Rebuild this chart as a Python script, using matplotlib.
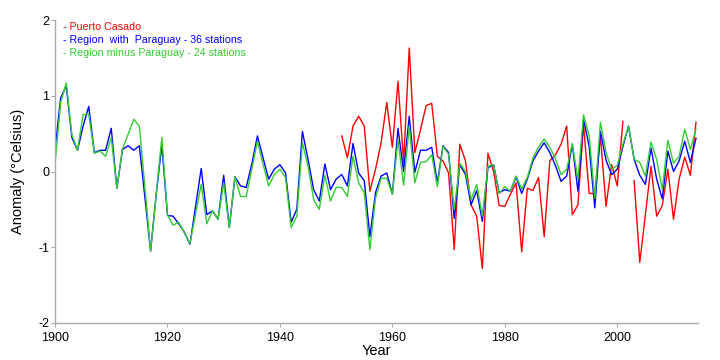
import numpy as np
import matplotlib
matplotlib.use("Agg")
import matplotlib.pyplot as plt

plt.rcParams["font.family"] = ["Liberation Sans", "DejaVu Sans"]
plt.rcParams["axes.unicode_minus"] = False

years = np.arange(1900, 2015)

# Region with Paraguay - 36 stations (1900..2014)
with_py = [
    0.29, 0.97, 1.13, 0.45, 0.28, 0.60, 0.86, 0.25, 0.28, 0.28,
    0.57, -0.22, 0.29, 0.34, 0.28, 0.34, -0.35, -1.05, -0.30, 0.35,
    -0.58, -0.59, -0.69, -0.80, -0.96, -0.46, 0.04, -0.57, -0.52, -0.63,
    -0.05, -0.74, -0.07, -0.19, -0.21, 0.10, 0.47, 0.18, -0.10, 0.03,
    0.09, -0.02, -0.67, -0.50, 0.53, 0.16, -0.24, -0.39, 0.10, -0.24,
    -0.10, -0.04, -0.19, 0.37, -0.02, -0.12, -0.86, -0.28, -0.06, -0.02,
    -0.30, 0.57, 0.00, 0.73, -0.01, 0.28, 0.28, 0.32, -0.15, 0.34,
    0.25, -0.62, 0.09, -0.04, -0.44, -0.25, -0.66, 0.05, 0.09, -0.28,
    -0.24, -0.26, -0.07, -0.29, -0.10, 0.14, 0.27, 0.38, 0.25, 0.08,
    -0.13, -0.06, 0.36, -0.26, 0.69, 0.33, -0.48, 0.53, 0.15, -0.04,
    0.03, 0.33, 0.60, 0.16, -0.05, -0.17, 0.31, -0.10, -0.36, 0.27,
    0.00, 0.14, 0.40, 0.12, 0.44,
]

# Region minus Paraguay - 24 stations (1900..2014)
minus_py = [
    0.09, 0.91, 1.17, 0.49, 0.28, 0.75, 0.76, 0.24, 0.27, 0.20,
    0.45, -0.22, 0.30, 0.49, 0.69, 0.60, -0.22, -1.05, -0.30, 0.45,
    -0.57, -0.71, -0.67, -0.81, -0.95, -0.56, -0.17, -0.69, -0.52, -0.63,
    -0.15, -0.74, -0.07, -0.33, -0.33, 0.03, 0.40, 0.10, -0.19, -0.04,
    0.03, -0.08, -0.74, -0.59, 0.38, 0.07, -0.37, -0.50, -0.05, -0.39,
    -0.21, -0.21, -0.33, 0.20, -0.15, -0.28, -1.03, -0.35, -0.09, -0.09,
    -0.30, 0.42, -0.18, 0.60, -0.15, 0.12, 0.13, 0.22, -0.20, 0.33,
    0.23, -0.50, 0.11, 0.00, -0.37, -0.17, -0.59, 0.07, 0.09, -0.29,
    -0.20, -0.26, -0.06, -0.23, -0.08, 0.18, 0.32, 0.43, 0.32, 0.17,
    -0.04, 0.03, 0.37, -0.11, 0.75, 0.47, -0.35, 0.65, 0.25, 0.03,
    0.08, 0.36, 0.60, 0.16, 0.12, -0.06, 0.39, 0.16, -0.24, 0.41,
    0.11, 0.20, 0.56, 0.29, 0.56,
]

# Puerto Casado (1951..2014, 2002 missing)
casado_years = np.arange(1951, 2015)
casado = [
    0.47, 0.18, 0.60, 0.73, 0.60, -0.26, 0.03, 0.38, 0.91,
    0.32, 1.19, 0.12, 1.63, 0.25, 0.55, 0.87, 0.90, 0.20, 0.14,
    -0.02, -1.03, 0.36, 0.14, -0.44, -0.59, -1.28, 0.24, 0.00, -0.45,
    -0.46, -0.30, -0.15, -1.06, -0.22, -0.25, -0.08, -0.86, 0.14, 0.22,
    0.36, 0.60, -0.57, -0.44, 0.62, -0.29, -0.29, 0.47, -0.46, 0.09,
    -0.19, 0.66, np.nan, -0.12, -1.20, -0.57, 0.07, -0.59, -0.45, 0.03,
    -0.63, -0.10, 0.19, -0.05, 0.65,
]

legend = [("- Puerto Casado", "#ff0000"),
          ("- Region  with  Paraguay - 36 stations", "#0000ff"),
          ("- Region minus Paraguay - 24 stations", "#33cc33")]

fig = plt.figure(figsize=(7.2, 3.6), dpi=100)
ax = fig.add_axes([0.0764, 0.1028, 0.8926, 0.8416])

ax.plot(casado_years, casado, color="#ff0000", lw=1.0)
ax.plot(years, with_py, color="#0000ff", lw=1.0)
ax.plot(years, minus_py, color="#33cc33", lw=1.0)

ax.set_xlim(1900, 2014.3)
ax.set_ylim(-2, 2)
ax.set_xticks(range(1900, 2001, 20))
ax.set_yticks([-2, -1, 0, 1, 2])
ax.tick_params(labelsize=9, length=3, width=0.8, color="#aaaaaa", pad=1)
ax.tick_params(axis="x", pad=3.5)
for s in ("top", "right"):
    ax.spines[s].set_visible(False)
for s in ("left", "bottom"):
    ax.spines[s].set_color("#aaaaaa")
    ax.spines[s].set_linewidth(1.0)

ax.set_xlabel("Year", fontsize=10.5, labelpad=0)
ax.set_ylabel("Anomaly (°Celsius)", fontsize=10.5, labelpad=10)

for i, (txt, c) in enumerate(legend):
    ax.text(0.013, 0.976 - i * 0.043, txt, color=c, fontsize=7.7,
            transform=ax.transAxes, va="center", ha="left")

fig.savefig("out.png", dpi=100)
